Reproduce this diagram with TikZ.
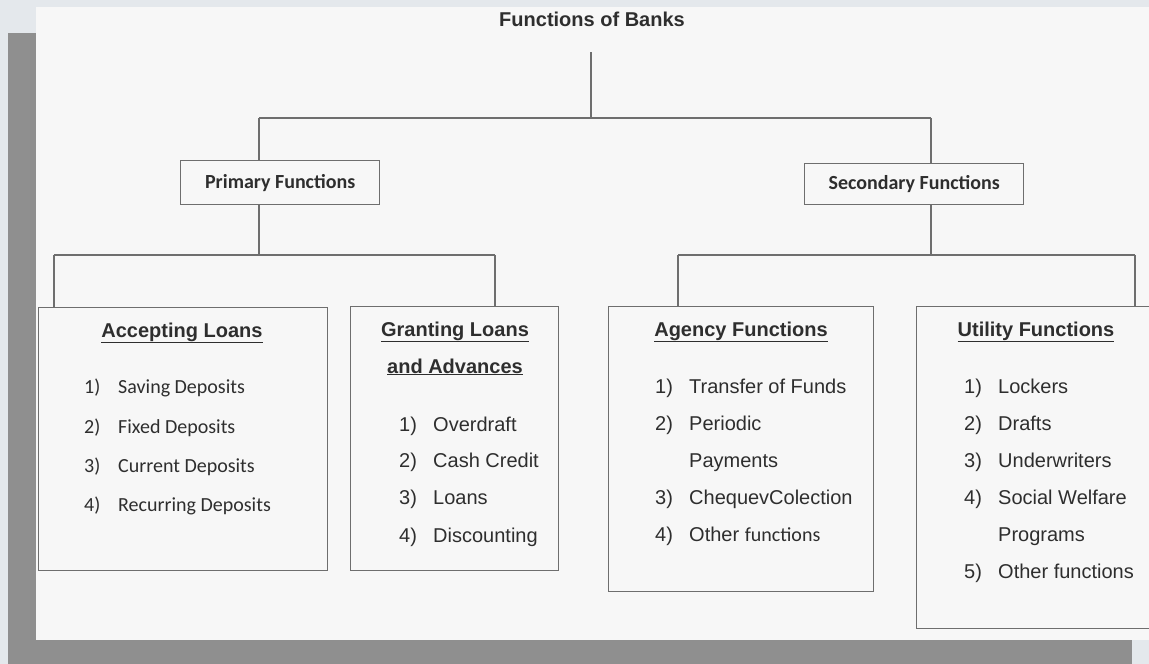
\documentclass[tikz,border=0pt]{standalone}
\usepackage{fontspec}
\setmainfont{Liberation Sans}
\newfontfamily\carl{Carlito}
\definecolor{panel}{HTML}{F7F7F7}
\definecolor{frame}{HTML}{8F8F8F}
\definecolor{topstrip}{HTML}{E4E8EC}
\definecolor{ink}{HTML}{2E2E2E}
\definecolor{edge}{HTML}{6E6E6E}
\newcommand\myfs{\fontsize{20}{24}\selectfont}
\begin{document}
\begin{tikzpicture}[x=1pt,y=-1pt,
  conn/.style={draw=edge,line width=1.4pt},
  box/.style={draw=edge,line width=1.4pt,fill=panel,anchor=north west,inner sep=0pt},
  head/.style={anchor=base,inner sep=0pt,text=ink,font=\bfseries\myfs},
  item/.style={anchor=base west,inner sep=0pt,text=ink,font=\myfs},
  citem/.style={anchor=base west,inner sep=0pt,text=ink,font=\carl\myfs},
  ctitle/.style={text=ink,font=\carl\bfseries\myfs}]
\useasboundingbox (0,0) rectangle (1149,664);
\clip (0,0) rectangle (1149,664);
% background (photo frame)
\fill[topstrip] (0,0) rectangle (1149,664);
\fill[frame] (8,33) rectangle (36,664);
\fill[frame] (8,640) rectangle (1132,664);
\fill[panel] (36,7) rectangle (1149,640);

% root
\node[head] (root) at (592,26) {Functions of Banks};
\coordinate (rootj) at (591,52);
\coordinate (hub) at (591,118);
\coordinate (pj) at (259,118);
\coordinate (sj) at (931,118);

% second level
\node[box,minimum width=199pt,minimum height=44pt] (prim) at (180,160) {};
\node[ctitle] (primt) at (prim.center) {Primary Functions};
\node[box,minimum width=219pt,minimum height=41pt] (sec) at (804,163) {};
\node[ctitle] (sect) at (sec.center) {Secondary Functions};

\draw[conn] (rootj) -- (hub);
\draw[conn] (pj) -- (sj);
\draw[conn] (pj) -- (pj |- prim.north);
\draw[conn] (sj) -- (sj |- sec.north);

% third level boxes
\node[box,minimum width=289pt,minimum height=263pt] (acc) at (38,307) {};
\node[box,minimum width=208pt,minimum height=264pt] (gra) at (350,306) {};
\node[box,minimum width=265pt,minimum height=285pt] (age) at (608,306) {};
\node[box,minimum width=260pt,minimum height=322pt] (uti) at (916,306) {};

\coordinate (pl) at (54,255);
\coordinate (pr) at (495,255);
\coordinate (pm) at (259,255);
\coordinate (sl) at (678,255);
\coordinate (sr) at (1135,255);
\coordinate (sm) at (931,255);
\draw[conn] (pm |- prim.south) -- (pm);
\draw[conn] (pl) -- (pr);
\draw[conn] (pl) -- (pl |- acc.north);
\draw[conn] (pr) -- (pr |- gra.north);
\draw[conn] (sm |- sec.south) -- (sm);
\draw[conn] (sl) -- (sr);
\draw[conn] (sl) -- (sl |- age.north);
\draw[conn] (sr) -- (sr |- uti.north);

% Accepting Loans
\node[head] (acch) at (182,337) {\underline{Accepting Loans}};
\node[citem] (a1n) at (84,393) {1)}; \node[citem] (a1) at (118,393) {Saving Deposits};
\node[citem] (a2n) at (84,433) {2)}; \node[citem] (a2) at (118,433) {Fixed Deposits};
\node[citem] (a3n) at (84,472) {3)}; \node[citem] (a3) at (118,472) {Current Deposits};
\node[citem] (a4n) at (84,511) {4)}; \node[citem] (a4) at (118,511) {Recurring Deposits};

% Granting Loans and Advances
\node[head] (grah1) at (455,336) {\underline{Granting Loans}};
\node[head] (grah2) at (455,373) {\underline{and Advances}};
\node[item] (g1n) at (399,431) {1)}; \node[item] (g1) at (433,431) {Overdraft};
\node[item] (g2n) at (399,467) {2)}; \node[item] (g2) at (433,467) {Cash Credit};
\node[item] (g3n) at (399,504) {3)}; \node[item] (g3) at (433,504) {Loans};
\node[item] (g4n) at (399,542) {4)}; \node[item] (g4) at (433,542) {Discounting};

% Agency Functions
\node[head] (ageh) at (741,336) {\underline{Agency Functions}};
\node[item] (b1n) at (655,393) {1)}; \node[item] (b1) at (689,393) {Transfer of Funds};
\node[item] (b2n) at (655,430) {2)}; \node[item] (b2) at (689,430) {Periodic};
\node[item] (b2b) at (689,467) {Payments};
\node[item] (b3n) at (655,504) {3)}; \node[item] (b3) at (689,504) {ChequevColection};
\node[item] (b4n) at (655,541) {4)}; \node[item] (b4) at (689,541) {Other {\carl functions}};

% Utility Functions
\node[head] (utih) at (1036,336) {\underline{Utility Functions}};
\node[item] (u1n) at (964,393) {1)}; \node[item] (u1) at (998,393) {Lockers};
\node[item] (u2n) at (964,430) {2)}; \node[item] (u2) at (998,430) {Drafts};
\node[item] (u3n) at (964,467) {3)}; \node[item] (u3) at (998,467) {Underwriters};
\node[item] (u4n) at (964,504) {4)}; \node[item] (u4) at (998,504) {Social Welfare};
\node[item] (u4b) at (998,541) {Programs};
\node[item] (u5n) at (964,578) {5)}; \node[item] (u5) at (998,578) {Other functions};
\end{tikzpicture}
\end{document}
